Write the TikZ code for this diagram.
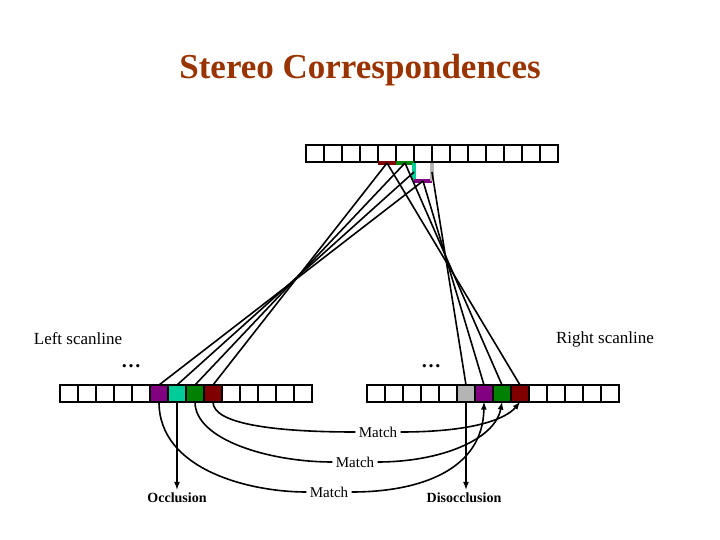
\documentclass[tikz,border=0pt]{standalone}
\usepackage{fontspec}
\setmainfont{Liberation Serif}
\usetikzlibrary{calc,arrows}
\definecolor{cpurple}{RGB}{128,0,128}
\definecolor{cteal}{RGB}{0,204,153}
\definecolor{cgreen}{RGB}{0,128,0}
\definecolor{cred}{RGB}{128,0,0}
\definecolor{cgray}{RGB}{180,180,180}
\definecolor{ctitle}{RGB}{153,51,0}
\tikzset{
  cell/.style={draw, line width=2.8pt, minimum width=18pt, minimum height=17pt, inner sep=0, outer sep=0},
  ray/.style={line width=1.6pt},
  match/.style={line width=1.6pt, -latex},
  lbl/.style={font=\fontsize{17}{20}\selectfont},
  mlbl/.style={font=\fontsize{15}{18}\selectfont},
}
\begin{document}
\begin{tikzpicture}[x=1pt, y=-1pt]
\useasboundingbox (0,0) rectangle (720,540);

\node[font=\fontsize{35}{40}\selectfont\bfseries, text=ctitle] (title) at (360,70) {Stereo Correspondences};

% scanlines
\foreach \i in {1,...,14} {
  \node[cell] (T\i) at ({306+18*\i-9},153.5) {};
  \node[cell] (L\i) at ({60+18*\i-9},393.5) {};
  \node[cell] (R\i) at ({367+18*\i-9},393.5) {};
}
\node[cell, fill=cpurple] at (L6) {};
\node[cell, fill=cteal] at (L7) {};
\node[cell, fill=cgreen] at (L8) {};
\node[cell, fill=cred] at (L9) {};
\node[cell, fill=cgray] at (R6) {};
\node[cell, fill=cpurple] at (R7) {};
\node[cell, fill=cgreen] at (R8) {};
\node[cell, fill=cred] at (R9) {};

% surface in the scene
\coordinate (sred) at (387,163);
\coordinate (sgreen) at (405,163);
\coordinate (steal) at (414,172);
\coordinate (spurple) at (423,181);
\coordinate (sgray) at (432,172);
\draw[cred, line width=3.5pt] (378,163) -- (396,163);
\draw[cgreen, line width=3.5pt] (396,163) -- (414,163);
\draw[cteal, line width=3.5pt] (414,163) -- (414,181);
\draw[cpurple, line width=3.5pt] (414,181) -- (432,181);
\draw[cgray, line width=3.5pt] (432,163) -- (432,181);

% rays
\draw[ray] (L6.north) -- (spurple);
\draw[ray] (L7.north) -- (steal);
\draw[ray] (L8.north) -- (sgreen);
\draw[ray] (L9.north) -- (sred);
\draw[ray] (R6.north) -- (sgray);
\draw[ray] (R7.north) -- (spurple);
\draw[ray] (R8.north) -- (sgreen);
\draw[ray] (R9.north) -- (sred);

\node[lbl] (lscan) at (78,339) {Left scanline};
\node[lbl] (rscan) at (605,339) {Right scanline};
\node[font=\fontsize{20}{20}\selectfont\bfseries] (ldots) at (131,366) {\dots};
\node[font=\fontsize{20}{20}\selectfont\bfseries] (rdots) at (431,366) {\dots};

% matches
\node[mlbl] (m1) at (378,432) {Match};
\node[mlbl] (m2) at (355,462) {Match};
\node[mlbl] (m3) at (329,492) {Match};
\draw[ray] (L9.south) .. controls (213,425) and (280,432) .. (m1.west);
\draw[match] (m1.east) .. controls (470,432) and (505,420) .. (R9.south);
\draw[ray] (L8.south) .. controls (195,440) and (270,462) .. (m2.west);
\draw[match] (m2.east) .. controls (440,462) and (495,440) .. (R8.south);
\draw[ray] (L6.south) .. controls (159,470) and (250,492) .. (m3.west);
\draw[match] (m3.east) .. controls (420,492) and (483,470) .. (R7.south);

\node[font=\fontsize{14}{16}\selectfont\bfseries] (occ) at (177,498) {Occlusion};
\node[font=\fontsize{14}{16}\selectfont\bfseries] (disocc) at (464,498) {Disocclusion};
\draw[match] (L7.south) -- (occ.north);
\draw[match] (R6.south) -- (disocc.north -| R6.south);
\end{tikzpicture}
\end{document}
